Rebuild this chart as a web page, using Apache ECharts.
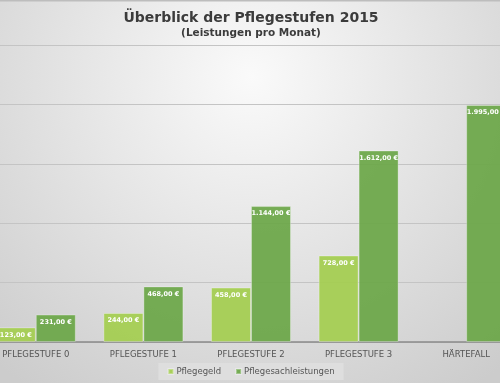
<!DOCTYPE html>
<html><head><meta charset="utf-8">
<script src="https://cdn.jsdelivr.net/npm/echarts@6/dist/echarts.min.js"></script>
<style>
html,body{margin:0;padding:0;}
#wrap{width:500px;height:383px;overflow:hidden;position:relative;background:#d8d8d8;}
#c{width:538px;height:383px;position:absolute;left:-18px;top:0;}
</style>
</head><body><div id="wrap"><div id="c"></div></div>
<script>
const categories = ['PFLEGESTUFE 0', 'PFLEGESTUFE 1', 'PFLEGESTUFE 2', 'PFLEGESTUFE 3', 'HÄRTEFALL'];
const pflegegeld = [123, 244, 458, 728, null];
const pflegesachleistungen = [231, 468, 1144, 1612, 1995];
const seriesNames = ['Pflegegeld', 'Pflegesachleistungen'];
const yTicks = [0, 500, 1000, 1500, 2000, 2500];

function fmt(v) {
  const parts = v.toFixed(2).split('.');
  const intPart = parts[0].replace(/\B(?=(\d{3})+(?!\d))/g, '.');
  return intPart + ',' + parts[1] + ' €';
}

const chart = echarts.init(document.getElementById('c'), null, {renderer: 'canvas'});
const labelStyle = {
  show: true, position: 'insideTop', distance: 4,
  color: '#ffffff', fontFamily: 'DejaVu Sans', fontWeight: 'bold', fontSize: 6.5,
  formatter: p => fmt(p.value)
};
chart.setOption({
  backgroundColor: {
    type: 'radial', x: 0.5, y: 0.2, r: 1.0,
    colorStops: [{offset: 0, color: '#fafafa'}, {offset: 1, color: '#cccccc'}]
  },
  animation: false,
  graphic: [{
    type: 'rect', left: 0, top: 0, shape: {width: 538, height: 1.5},
    style: {fill: '#bdbdbd'}, silent: true
  }],
  title: {
    text: 'Überblick der Pflegestufen 2015',
    subtext: '(Leistungen pro Monat)',
    left: 'center', top: 6, itemGap: 3,
    textStyle: {fontFamily: 'DejaVu Sans', fontWeight: 'bold', fontSize: 14, color: '#3b3b3b'},
    subtextStyle: {fontFamily: 'DejaVu Sans', fontWeight: 'bold', fontSize: 10.5, color: '#3b3b3b'}
  },
  legend: {
    data: seriesNames, bottom: 3, left: 'center',
    backgroundColor: '#dedede', padding: [4, 9, 4, 9],
    itemWidth: 5, itemHeight: 5, itemGap: 14, icon: 'rect',
    textStyle: {fontFamily: 'DejaVu Sans', fontSize: 8.5, color: '#555555', padding: [0, 0, 0, -2]}
  },
  grid: {left: 0, right: 0, top: 45, bottom: 41, containLabel: false},
  xAxis: {
    type: 'category', data: categories,
    axisLine: {lineStyle: {color: '#8a8a8a', width: 1.5}},
    axisTick: {show: false},
    axisLabel: {fontFamily: 'DejaVu Sans', fontSize: 8.5, color: '#555555', margin: 8}
  },
  yAxis: {
    type: 'value', min: yTicks[0], max: yTicks[yTicks.length - 1], interval: 500,
    axisLabel: {show: false}, axisLine: {show: false}, axisTick: {show: false},
    splitLine: {lineStyle: {color: '#c4c4c4', width: 1}}
  },
  series: [
    {
      name: seriesNames[0], type: 'bar', data: pflegegeld, barWidth: 40, barGap: '0%',
      itemStyle: {color: 'rgba(164,205,80,0.93)', borderColor: 'rgba(255,255,255,0.3)', borderWidth: 1},
      label: labelStyle
    },
    {
      name: seriesNames[1], type: 'bar', data: pflegesachleistungen, barWidth: 40, barGap: '0%',
      itemStyle: {color: 'rgba(106,166,70,0.92)', borderColor: 'rgba(255,255,255,0.3)', borderWidth: 1},
      label: labelStyle
    }
  ]
});
</script></body></html>
